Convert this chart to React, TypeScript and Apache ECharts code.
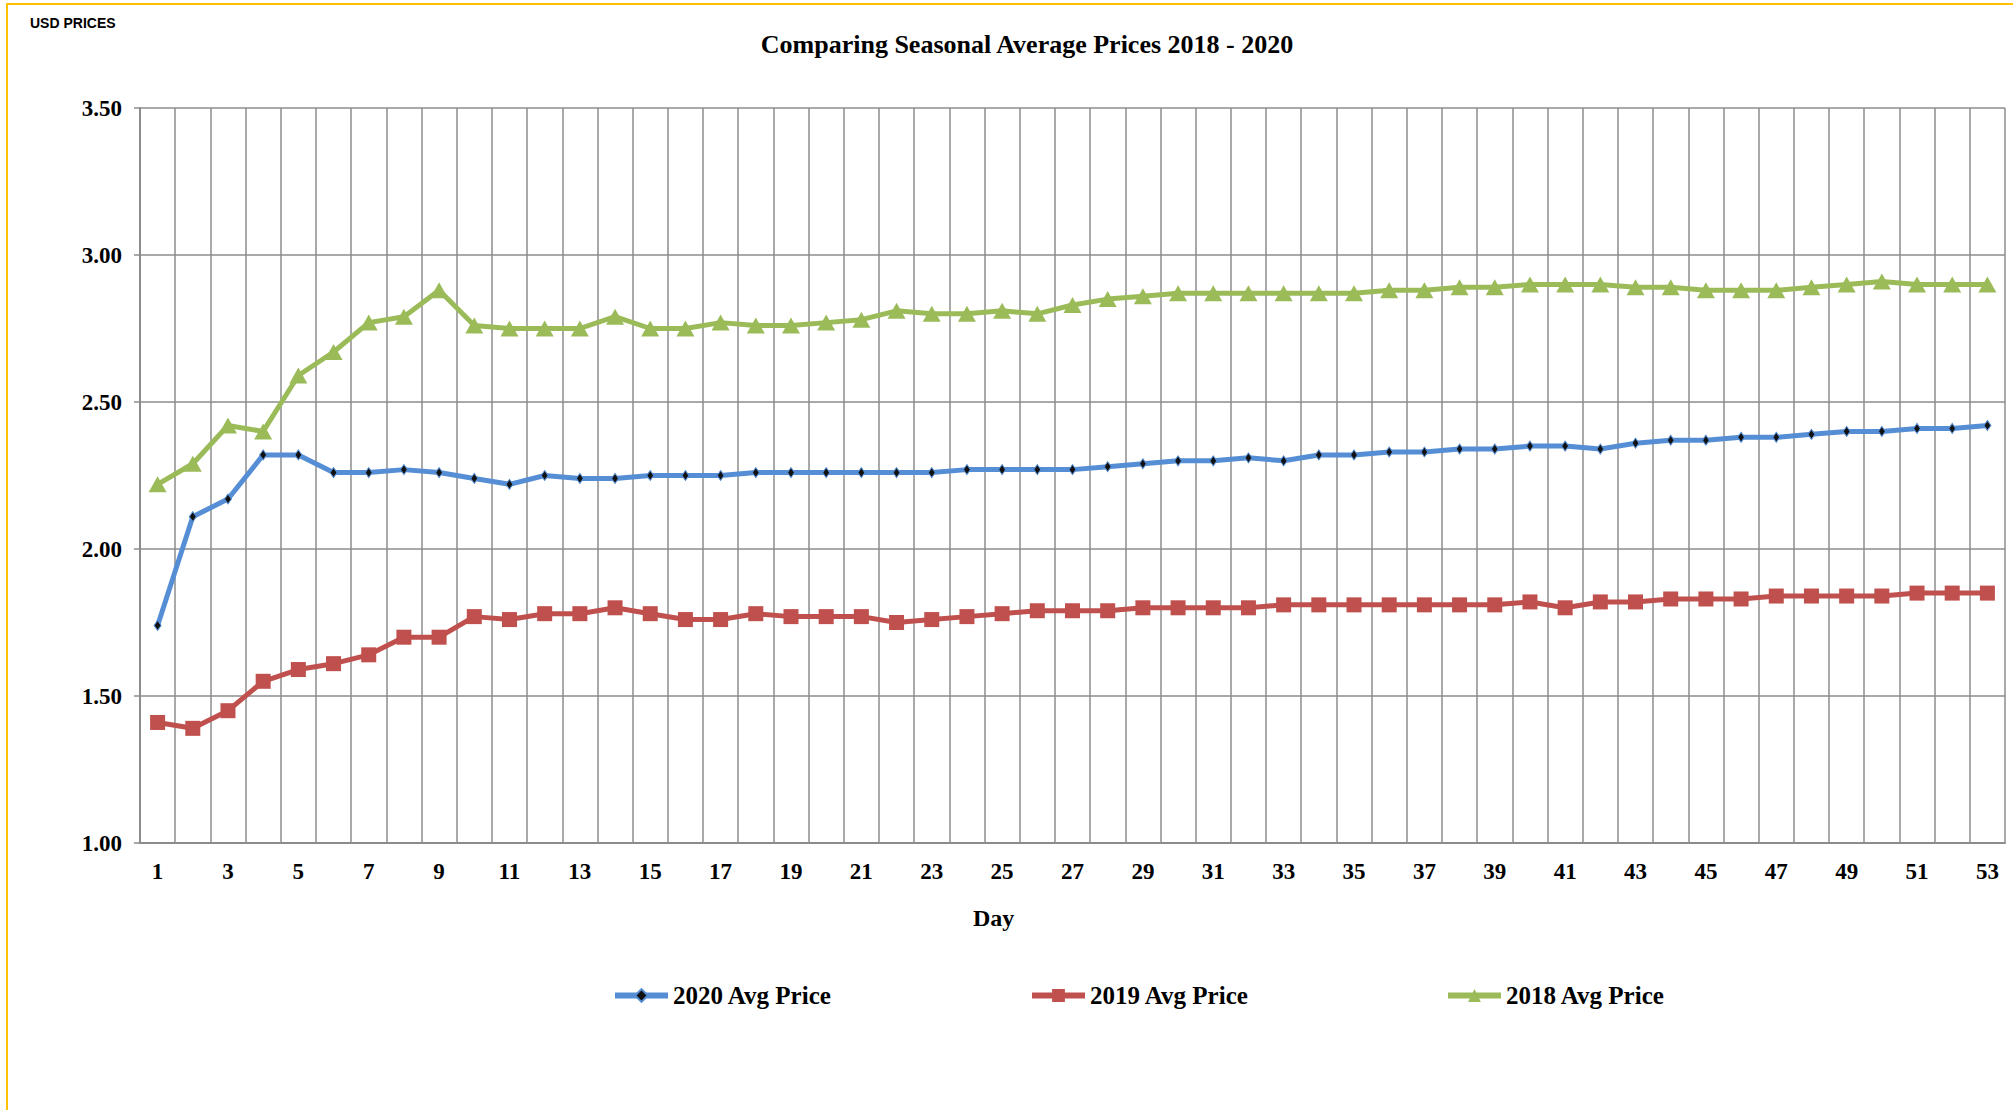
import React, { useEffect, useRef } from "react";
import * as echarts from "echarts";

const days: string[] = Array.from({ length: 53 }, (_, i) => String(i + 1));

const avg2020: number[] = [
  1.74, 2.11, 2.17, 2.32, 2.32, 2.26, 2.26, 2.27, 2.26, 2.24,
  2.22, 2.25, 2.24, 2.24, 2.25, 2.25, 2.25, 2.26, 2.26, 2.26,
  2.26, 2.26, 2.26, 2.27, 2.27, 2.27, 2.27, 2.28, 2.29, 2.30,
  2.30, 2.31, 2.30, 2.32, 2.32, 2.33, 2.33, 2.34, 2.34, 2.35,
  2.35, 2.34, 2.36, 2.37, 2.37, 2.38, 2.38, 2.39, 2.40, 2.40,
  2.41, 2.41, 2.42,
];

const avg2019: number[] = [
  1.41, 1.39, 1.45, 1.55, 1.59, 1.61, 1.64, 1.70, 1.70, 1.77,
  1.76, 1.78, 1.78, 1.80, 1.78, 1.76, 1.76, 1.78, 1.77, 1.77,
  1.77, 1.75, 1.76, 1.77, 1.78, 1.79, 1.79, 1.79, 1.80, 1.80,
  1.80, 1.80, 1.81, 1.81, 1.81, 1.81, 1.81, 1.81, 1.81, 1.82,
  1.80, 1.82, 1.82, 1.83, 1.83, 1.83, 1.84, 1.84, 1.84, 1.84,
  1.85, 1.85, 1.85,
];

const avg2018: number[] = [
  2.22, 2.29, 2.42, 2.40, 2.59, 2.67, 2.77, 2.79, 2.88, 2.76,
  2.75, 2.75, 2.75, 2.79, 2.75, 2.75, 2.77, 2.76, 2.76, 2.77,
  2.78, 2.81, 2.80, 2.80, 2.81, 2.80, 2.83, 2.85, 2.86, 2.87,
  2.87, 2.87, 2.87, 2.87, 2.87, 2.88, 2.88, 2.89, 2.89, 2.90,
  2.90, 2.90, 2.89, 2.89, 2.88, 2.88, 2.88, 2.89, 2.90, 2.91,
  2.90, 2.90, 2.90,
];

const seriesNames: string[] = ["2020 Avg Price", "2019 Avg Price", "2018 Avg Price"];
const titleText = "Comparing Seasonal Average Prices 2018 - 2020";
const yAxisTitle = "USD PRICES";
const xAxisTitle = "Day";

const FONT = "'Liberation Serif', 'DejaVu Serif', serif";
const GRID = "#8C8C8C";
const BLUE = "#558ED5";
const RED = "#C0504D";
const GREEN = "#9BBB59";

export default function App() {
  const ref = useRef<HTMLDivElement>(null);

  useEffect(() => {
    if (!ref.current) return;
    const chart = echarts.init(ref.current, undefined, { renderer: "svg" });
    const legendText = { fontFamily: FONT, fontWeight: "bold" as const, fontSize: 25, color: "#000" };
    const legendCommon = {
      top: 983,
      padding: 0,
      itemWidth: 53,
      itemHeight: 16,
      itemGap: 0,
      lineStyle: { width: 6 },
      textStyle: legendText,
    };
    chart.setOption({
      animation: false,
      backgroundColor: "#ffffff",
      title: [
        {
          text: titleText,
          left: 1022,
          top: 26,
          textAlign: "center",
          textStyle: { fontFamily: FONT, fontWeight: "bold", fontSize: 26, color: "#000" },
        },
        {
          text: yAxisTitle,
          left: 25,
          top: 11,
          textStyle: { fontFamily: "'Liberation Sans', Arial, sans-serif", fontWeight: "bold", fontSize: 14, color: "#000" },
        },
      ],
      graphic: [
        {
          type: "text",
          left: 973,
          top: 906,
          style: {
            text: xAxisTitle,
            font: `bold 24px ${FONT}`,
            fill: "#000",
          },
        },
      ],
      grid: { left: 140, right: 8, top: 108, bottom: 267, containLabel: false },
      legend: [
        { ...legendCommon, data: [seriesNames[0]], left: 612 },
        { ...legendCommon, data: [seriesNames[1]], left: 1029 },
        { ...legendCommon, data: [seriesNames[2]], left: 1445 },
      ],
      xAxis: {
        type: "category",
        data: days,
        boundaryGap: true,
        axisLine: { show: true, lineStyle: { color: GRID, width: 2 } },
        axisTick: { show: false },
        axisLabel: {
          interval: 1,
          margin: 17,
          fontFamily: FONT,
          fontWeight: "bold",
          fontSize: 23,
          color: "#000",
        },
        splitLine: { show: true, interval: 0, lineStyle: { color: GRID, width: 1.5 } },
      },
      yAxis: {
        type: "value",
        min: 1,
        max: 3.5,
        interval: 0.5,
        axisLine: { show: true, lineStyle: { color: GRID, width: 2 } },
        axisTick: { show: true, length: 6, lineStyle: { color: GRID, width: 1.5 } },
        axisLabel: {
          margin: 18,
          fontFamily: FONT,
          fontWeight: "bold",
          fontSize: 23,
          color: "#000",
          formatter: (v: number) => v.toFixed(2),
        },
        splitLine: { show: true, lineStyle: { color: GRID, width: 1.5 } },
      },
      series: [
        {
          name: seriesNames[0],
          type: "line",
          data: avg2020,
          color: BLUE,
          lineStyle: { color: BLUE, width: 5 },
          symbol: "diamond",
          symbolSize: [7, 10],
          itemStyle: { color: "#111", borderColor: BLUE, borderWidth: 1 },
          z: 3,
        },
        {
          name: seriesNames[1],
          type: "line",
          data: avg2019,
          color: RED,
          lineStyle: { color: RED, width: 5 },
          symbol: "rect",
          symbolSize: 15,
          itemStyle: { color: RED },
          z: 2,
        },
        {
          name: seriesNames[2],
          type: "line",
          data: avg2018,
          color: GREEN,
          lineStyle: { color: GREEN, width: 5 },
          symbol: "triangle",
          symbolSize: [18, 16],
          itemStyle: { color: GREEN },
          z: 2,
        },
      ],
    });
    return () => chart.dispose();
  }, []);

  return (
    <div
      style={{
        position: "fixed",
        left: 0,
        top: 0,
        width: 2013,
        height: 1110,
        background: "#fff",
      }}
    >
      <div
        style={{
          position: "absolute",
          left: 6,
          top: 3,
          right: 0,
          bottom: 0,
          borderTop: "2px solid #FFC000",
          borderLeft: "2px solid #FFC000",
          pointerEvents: "none",
          zIndex: 2,
        }}
      />
      <div ref={ref} style={{ position: "absolute", left: 0, top: 0, width: 2013, height: 1110 }} />
    </div>
  );
}
